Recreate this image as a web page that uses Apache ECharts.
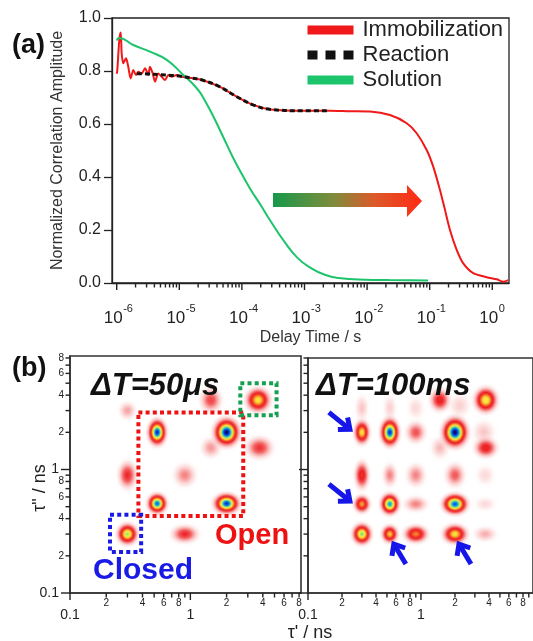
<!DOCTYPE html>
<html><head><meta charset="utf-8">
<script src="https://cdn.jsdelivr.net/npm/echarts@6/dist/echarts.min.js"></script>
<style>html,body{margin:0;padding:0;background:#fff}#c{width:533px;height:641px}</style>
</head><body><div id="c"></div>
<script>
const FONT = '"Liberation Sans", Arial, sans-serif';

// ---------- Panel (a): correlation decays ----------
const immobT = [1.0e-6,1.02e-6,1.10e-6,1.16e-6,1.20e-6,1.27e-6,1.41e-6,1.53e-6,1.67e-6,1.84e-6,2.03e-6,2.21e-6,2.51e-6,2.83e-6,3.20e-6,3.40e-6,3.76e-6,4.09e-6,4.62e-6,5.24e-6,5.92e-6,6.67e-6,7.57e-6,9.09e-6,1.09e-5,1.5e-5,2.38e-5,4.46e-5,8.3e-5,1.55e-4,2.88e-4,1e-3,2.55e-3,5.33e-3,0.0111,0.0232,0.043,0.062,0.0895,0.114,0.146,0.176,0.211,0.27,0.344,0.497,0.814,1.18,1.50,1.80];
const immobA = [0.79,0.80,0.917,0.945,0.867,0.829,0.848,0.816,0.772,0.804,0.785,0.797,0.791,0.810,0.785,0.816,0.791,0.760,0.791,0.778,0.766,0.785,0.778,0.785,0.778,0.774,0.765,0.740,0.703,0.671,0.655,0.650,0.650,0.648,0.647,0.634,0.603,0.565,0.502,0.439,0.351,0.275,0.200,0.125,0.074,0.037,0.022,0.014,0.005,0.011];
const reactT = [2.1e-6,3.0e-6,5.0e-6,1.0e-5,1.5e-5,2.38e-5,4.46e-5,8.3e-5,1.55e-4,2.88e-4,1.0e-3,2.5e-3];
const reactA = [0.790,0.789,0.786,0.781,0.774,0.765,0.740,0.703,0.671,0.655,0.650,0.650];
const solT = [1.0e-6,1.09e-6,1.84e-6,3.4e-6,6.3e-6,1.16e-5,1.9e-5,2.4e-5,3.47e-5,5.05e-5,7.33e-5,1.06e-4,1.36e-4,1.98e-4,2.9e-4,4.74e-4,7.8e-4,1.28e-3,2.11e-3,3.5e-3,9.4e-3,0.0224,0.094];
const solA = [0.915,0.925,0.898,0.873,0.842,0.785,0.735,0.700,0.630,0.550,0.470,0.400,0.355,0.295,0.232,0.157,0.094,0.056,0.031,0.019,0.0125,0.011,0.009];
const aDecadeTicks = [1e-6,1e-5,1e-4,1e-3,1e-2,1e-1,1];
const aDecadeExp = ['-6','-5','-4','-3','-2','-1','0'];

// ---------- Panel (b): 2D lifetime correlation peaks (tau', tau'' in ns) ----------
const p50X   = [2.0, 0.53,0.53,2.0, 0.30,3.65,0.30,0.90,0.90,1.48,0.30,1.48,3.75];
const p50Y   = [2.0, 2.0, 0.53,0.53,0.30,3.65,0.90,0.90,0.30,3.65,3.0, 1.5, 1.5];
const p50Amp = [1.0, 0.93,0.86,0.92,0.66,0.56,0.24,0.13,0.24,0.20,0.10,0.11,0.22];
const p50Wx  = [.047,.034,.036,.047,.039,.047,.039,.050,.056,.045,.039,.045,.056];
const p50Wy  = [.050,.047,.036,.036,.039,.045,.056,.050,.036,.050,.039,.045,.045];

const p100X   = [2.0, 0.53,0.30,0.90,3.75,1.47,0.30,0.53,0.90,2.2, 3.6, 1.47,3.75,0.30,0.53,0.90,2.0, 3.7, 0.30, 0.53, 0.90, 2.0,  3.7,  0.30,0.53,0.90,2.0, 3.7];
const p100Y   = [2.0, 2.0, 2.0, 2.0, 3.65,3.65,3.15,3.15,3.15,3.3, 2.0, 1.5, 1.5, 0.90,0.90,0.90,0.90,0.90,0.525,0.525,0.525,0.525,0.525,0.30,0.30,0.30,0.30,0.30];
const p100Amp = [1.0, 0.92,0.55,0.18,0.60,0.28,0.07,0.06,0.05,0.06,0.07,0.08,0.28,0.30,0.13,0.13,0.17,0.05,0.45, 0.80, 0.13, 0.88, 0.05, 0.68,0.50,0.42,0.55,0.09];
const p100Wx  = [.050,.037,.032,.045,.047,.043,.034,.034,.045,.056,.056,.045,.050,.032,.034,.045,.045,.050,.034, .037, .056, .050, .056, .039,.034,.050,.050,.056];
const p100Wy  = [.053,.050,.045,.045,.047,.045,.060,.060,.056,.056,.056,.050,.039,.056,.050,.050,.050,.050,.034, .039, .034, .037, .034, .039,.034,.034,.036,.034];

// annotation boxes on the 50 us map (ns)
const boxX1 = [0.37, 2.6, 0.215];
const boxX2 = [2.75, 5.2, 0.39];
const boxY1 = [0.42, 2.75, 0.215];
const boxY2 = [2.9, 5.0, 0.43];
const boxColors = ['#ee1111', '#14a050', '#1a1ae6'];
// arrows on the 100 ms map point at these peaks
const arrowPeakX = [0.30, 0.30, 0.53, 2.0];
const arrowPeakY = [2.0, 0.525, 0.30, 0.30];
const arrowSide = ['upperLeft', 'upperLeft', 'lowerRight', 'lowerRight'];

const bMajorTicks = [0.1, 1];
const bMajorLabels = ['0.1', '1'];
const bMinorTicks = [0.2,0.3,0.4,0.5,0.6,0.7,0.8,0.9,2,3,4,5,6,7,8,9];
const bMinorLabels = ['2','','4','','6','','8','','2','','4','','6','','8',''];

// ---------- helpers ----------
const zip = (a, b) => a.map((v, i) => [v, b[i]]);

const CMAP = [
  [0.00,255,255,255,0],
  [0.03,248,180,180,0.28],
  [0.08,244,120,120,0.52],
  [0.15,240,65,65,0.80],
  [0.25,236,28,36,1],
  [0.35,240,70,36,1],
  [0.44,248,150,45,1],
  [0.52,252,215,55,1],
  [0.60,235,240,80,1],
  [0.67,140,225,110,1],
  [0.74,50,205,200,1],
  [0.82,20,140,235,1],
  [0.90,15,60,210,1],
  [1.00,0,10,120,1]
];
function cmap(v) {
  v = Math.max(0, Math.min(1, v));
  for (let i = 1; i < CMAP.length; i++) {
    if (v <= CMAP[i][0]) {
      const a = CMAP[i-1], b = CMAP[i];
      const t = (v - a[0]) / (b[0] - a[0]);
      const c = [1,2,3].map(k => Math.round(a[k] + (b[k]-a[k]) * t));
      const al = a[4] + (b[4]-a[4]) * t;
      return 'rgba(' + c[0] + ',' + c[1] + ',' + c[2] + ',' + al.toFixed(3) + ')';
    }
  }
  return 'rgb(0,10,120)';
}

function blobSeries(grid, X, Y, A, WX, WY) {
  const data = X.map((x, i) => [x, Y[i], A[i], WX[i], WY[i]]).sort((p, q) => p[2] - q[2]);
  return {
    type: 'custom', xAxisIndex: grid, yAxisIndex: grid, clip: true, silent: true, z: 2,
    encode: { x: 0, y: 1 }, data,
    renderItem(params, api) {
      const x = api.value(0), y = api.value(1), a = api.value(2), wx = api.value(3), wy = api.value(4);
      const c = api.coord([x, y]);
      const cx = api.coord([x * Math.pow(10, wx), y]);
      const cy = api.coord([x, y * Math.pow(10, wy)]);
      const sx = Math.abs(cx[0] - c[0]), sy = Math.abs(c[1] - cy[1]);
      const stops = [];
      const N = 16;
      for (let k = 0; k <= N; k++) {
        const t = k / N;
        stops.push({ offset: t, color: cmap(a * Math.exp(-4.5 * t * t)) });
      }
      return {
        type: 'circle', x: c[0], y: c[1], scaleX: 1, scaleY: sy / sx,
        shape: { cx: 0, cy: 0, r: 3 * sx },
        style: { fill: { type: 'radial', x: 0.5, y: 0.5, r: 0.5, colorStops: stops } }
      };
    }
  };
}

function ticksSeries(grid, dim, base, vals, lvls, labs, draw) {
  return {
    type: 'custom', xAxisIndex: grid, yAxisIndex: grid, silent: true, clip: false, z: 10,
    encode: { x: 0, y: 1 },
    data: vals.map(v => dim === 'x' ? [v, base] : [base, v]),
    renderItem(params, api) {
      const i = params.dataIndex;
      const p = api.coord([api.value(0), api.value(1)]);
      return draw(p, lvls[i], labs[i]);
    }
  };
}
const TC = '#222';
// tick mark as a thin filled rectangle
function vTick(x, y, len) {
  return { type: 'rect', shape: { x: x - 0.7, y: y, width: 1.4, height: len }, style: { fill: TC } };
}
function hTick(x, y, len) {
  return { type: 'rect', shape: { x: x - len, y: y - 0.7, width: len, height: 1.4 }, style: { fill: TC } };
}
function textEl(x, y, text, size, align) {
  return { type: 'text', x, y, style: { text, fill: TC, font: size + 'px ' + FONT, align, verticalAlign: 'middle', textAlign: align, textVerticalAlign: 'middle' } };
}

// top x axis ticks
const aMinor = [];
for (let d = 0; d < aDecadeTicks.length - 1; d++) for (let k = 2; k <= 9; k++) aMinor.push(k * aDecadeTicks[d]);
const aTickVals = aDecadeTicks.concat(aMinor);
const aTickLvls = aDecadeTicks.map(() => 1).concat(aMinor.map(() => 0));
const aTickLabs = aDecadeExp.concat(aMinor.map(() => ''));
function drawTopX(p, lvl, lab) {
  const ch = [vTick(p[0], p[1], lvl ? 7 : 4.5)];
  if (lvl) {
    ch.push(textEl(p[0] + 6, p[1] + 35, '10', 17, 'right'));
    ch.push(textEl(p[0] + 6.5, p[1] + 26, lab, 11, 'left'));
  }
  return { type: 'group', children: ch };
}

function bTicks(max) {
  const v = [], l = [], t = [];
  bMajorTicks.forEach((x, i) => { if (x <= max + 1e-9) { v.push(x); l.push(1); t.push(bMajorLabels[i]); } });
  bMinorTicks.forEach((x, i) => { if (x <= max + 1e-9) { v.push(x); l.push(0); t.push(bMinorLabels[i]); } });
  return [v, l, t];
}
function drawBX(p, lvl, lab) {
  const ch = [vTick(p[0], p[1], lvl ? 7 : 4.5)];
  if (lab) ch.push(lvl ? textEl(p[0], p[1] + 22, lab, 14, 'center') : textEl(p[0], p[1] + 10, lab, 10, 'center'));
  return { type: 'group', children: ch };
}
function drawBY(withLabels) {
  return (p, lvl, lab) => {
    const ch = [hTick(p[0], p[1], lvl ? 9 : 4.5)];
    if (withLabels && lab) ch.push(lvl ? textEl(p[0] - 11, p[1], lab, 14, 'right') : textEl(p[0] - 6, p[1], lab, 10, 'right'));
    return { type: 'group', children: ch };
  };
}

const X1MAX = 8.3, Y1MAX = 8.3, X2MAX = 9.81, Y2MAX = 8.0;
const bx1 = bTicks(X1MAX), by1 = bTicks(Y1MAX), bx2 = bTicks(X2MAX), by2 = bTicks(Y2MAX);

const RED = '#f01818', GREEN = '#1cc46c', BLACK = '#111';

const boxSeries = {
  type: 'custom', xAxisIndex: 1, yAxisIndex: 1, silent: true, clip: false, z: 4,
  encode: { x: [0, 2], y: [1, 3] },
  data: boxX1.map((x, i) => [x, boxY1[i], boxX2[i], boxY2[i]]),
  renderItem(params, api) {
    const i = params.dataIndex;
    const tl = api.coord([api.value(0), api.value(3)]);
    const br = api.coord([api.value(2), api.value(1)]);
    return { type: 'rect', shape: { x: tl[0], y: tl[1], width: br[0] - tl[0], height: br[1] - tl[1] },
      style: { fill: 'none', stroke: boxColors[i], lineWidth: 4, lineDash: [4, 3.2] } };
  }
};

const arrowSeries = {
  type: 'custom', xAxisIndex: 2, yAxisIndex: 2, silent: true, clip: false, z: 5,
  encode: { x: 0, y: 1 },
  data: arrowPeakX.map((x, i) => [x, arrowPeakY[i]]),
  renderItem(params, api) {
    const p = api.coord([api.value(0), api.value(1)]);
    let head, tail;
    if (arrowSide[params.dataIndex] === 'upperLeft') {
      head = [p[0] - 12, p[1] - 3]; tail = [head[0] - 21, head[1] - 17];
    } else {
      head = [p[0] + 4, p[1] + 10]; tail = [head[0] + 12, head[1] + 20];
    }
    const dx = head[0] - tail[0], dy = head[1] - tail[1], L = Math.hypot(dx, dy);
    const ux = dx / L, uy = dy / L, a = 40 * Math.PI / 180, hl = 12;
    const rot = s => [head[0] - hl * (ux * Math.cos(s * a) - uy * Math.sin(s * a)), head[1] - hl * (ux * Math.sin(s * a) + uy * Math.cos(s * a))];
    const st = { stroke: '#1616e8', lineWidth: 5, fill: 'none', lineJoin: 'miter', lineCap: 'butt' };
    return { type: 'group', children: [
      { type: 'polyline', shape: { points: [tail, [head[0] - ux * 2, head[1] - uy * 2]] }, style: st },
      { type: 'polyline', shape: { points: [rot(1), head, rot(-1)] }, style: st }
    ] };
  }
};

const logAxisHidden = (grid, max) => ({
  gridIndex: grid, type: 'log', logBase: 10, min: 0.1, max,
  axisLine: { show: true, lineStyle: { color: '#333', width: 1.6 } },
  axisTick: { show: false }, axisLabel: { show: false }, splitLine: { show: false }
});

const chart = echarts.init(document.getElementById('c'), null, { renderer: 'canvas' });
chart.setOption({
  animation: false,
  backgroundColor: '#fff',
  textStyle: { fontFamily: FONT },
  grid: [
    { left: 112, top: 18, width: 397, height: 265, show: true, borderColor: '#222', borderWidth: 1.3, backgroundColor: 'transparent' },
    { left: 70, top: 356, width: 231, height: 237, show: true, borderColor: '#333', borderWidth: 1.6, backgroundColor: 'transparent' },
    { left: 308, top: 358, width: 240, height: 235, show: true, borderColor: '#333', borderWidth: 1.6, backgroundColor: 'transparent' }
  ],
  xAxis: [
    { gridIndex: 0, type: 'log', logBase: 10, min: 8.41e-7, max: 1.85,
      axisLine: { show: true, lineStyle: { color: '#222', width: 1.3 } },
      axisTick: { show: false }, axisLabel: { show: false }, splitLine: { show: false },
      name: 'Delay Time / s', nameLocation: 'middle', nameGap: 47,
      nameTextStyle: { fontSize: 16, color: '#333', fontFamily: FONT } },
    logAxisHidden(1, X1MAX),
    logAxisHidden(2, X2MAX)
  ],
  yAxis: [
    { gridIndex: 0, type: 'value', min: 0, max: 1, interval: 0.2,
      axisLine: { show: true, lineStyle: { color: '#222', width: 1.3 } },
      axisTick: { show: true, length: 8, lineStyle: { color: '#222', width: 1.3 } },
      axisLabel: { fontSize: 16, color: '#222', margin: 11, fontFamily: FONT, formatter: v => v.toFixed(1) },
      splitLine: { show: false },
      name: 'Normalized Correlation Amplitude', nameLocation: 'middle', nameGap: 46,
      nameTextStyle: { fontSize: 16, color: '#333', fontFamily: FONT } },
    logAxisHidden(1, Y1MAX),
    logAxisHidden(2, Y2MAX)
  ],
  legend: {
    orient: 'vertical', left: 303, top: 19, padding: 0, itemWidth: 46, itemHeight: 10, itemGap: 3,
    selectedMode: false,
    lineStyle: { width: 9 },
    textStyle: { fontSize: 22, color: '#222', fontFamily: FONT, lineHeight: 22, padding: [0, 0, 0, 4] },
    data: [
      { name: 'Immobilization' },
      { name: 'Reaction', lineStyle: { width: 9, type: [10, 8] } },
      { name: 'Solution' }
    ]
  },
  graphic: [
    { type: 'polygon', z: 50,
      shape: { points: [[273,193],[407,193],[407,185],[422,201],[407,217],[407,207],[273,207]] },
      style: { fill: { type: 'linear', x: 0, y: 0, x2: 1, y2: 0, colorStops: [
        { offset: 0, color: '#17994a' }, { offset: 0.4, color: '#7d8c3c' },
        { offset: 0.68, color: '#dc5a2a' }, { offset: 1, color: '#ff2a14' } ] } } },
    { type: 'text', z: 100, x: 12, y: 46, style: { text: '(a)', font: 'bold 27px ' + FONT, fill: '#111', verticalAlign: 'middle', textVerticalAlign: 'middle' } },
    { type: 'text', z: 100, x: 12, y: 369, style: { text: '(b)', font: 'bold 27px ' + FONT, fill: '#111', verticalAlign: 'middle', textVerticalAlign: 'middle' } },
    { type: 'text', z: 100, x: 91, y: 386, style: { text: 'ΔT=50μs', font: 'italic bold 31px ' + FONT, fill: '#111', verticalAlign: 'middle', textVerticalAlign: 'middle' } },
    { type: 'text', z: 100, x: 316, y: 386, style: { text: 'ΔT=100ms', font: 'italic bold 31px ' + FONT, fill: '#111', verticalAlign: 'middle', textVerticalAlign: 'middle' } },
    { type: 'text', z: 100, x: 215, y: 536, style: { text: 'Open', font: 'bold 29px ' + FONT, fill: '#ee1111', verticalAlign: 'middle', textVerticalAlign: 'middle' } },
    { type: 'text', z: 100, x: 93, y: 571, style: { text: 'Closed', font: 'bold 30px ' + FONT, fill: '#1a1ae6', verticalAlign: 'middle', textVerticalAlign: 'middle' } },
    { type: 'text', z: 100, x: 310, y: 633, style: { text: "τ' / ns", font: '18px ' + FONT, fill: '#222', align: 'center', textAlign: 'center', verticalAlign: 'middle', textVerticalAlign: 'middle' } },
    { type: 'text', z: 100, x: 40, y: 488, rotation: Math.PI / 2, style: { text: 'τ" / ns', font: '18px ' + FONT, fill: '#222', align: 'center', textAlign: 'center', verticalAlign: 'middle', textVerticalAlign: 'middle' } }
  ],
  series: [
    { name: 'Immobilization', type: 'line', xAxisIndex: 0, yAxisIndex: 0, data: zip(immobT, immobA),
      symbol: 'none', smooth: 0.25, lineStyle: { color: RED, width: 2 }, itemStyle: { color: RED }, z: 3 },
    { name: 'Solution', type: 'line', xAxisIndex: 0, yAxisIndex: 0, data: zip(solT, solA),
      symbol: 'none', smooth: 0.5, lineStyle: { color: GREEN, width: 2 }, itemStyle: { color: GREEN }, z: 3 },
    { name: 'Reaction', type: 'line', xAxisIndex: 0, yAxisIndex: 0, data: zip(reactT, reactA),
      symbol: 'none', smooth: 0.4, lineStyle: { color: BLACK, width: 3, type: [5, 3] }, itemStyle: { color: BLACK }, z: 4 },
    ticksSeries(0, 'x', 0, aTickVals, aTickLvls, aTickLabs, drawTopX),
    blobSeries(1, p50X, p50Y, p50Amp, p50Wx, p50Wy),
    blobSeries(2, p100X, p100Y, p100Amp, p100Wx, p100Wy),
    boxSeries,
    arrowSeries,
    ticksSeries(1, 'x', 0.1, bx1[0], bx1[1], bx1[2], drawBX),
    ticksSeries(1, 'y', 0.1, by1[0], by1[1], by1[2], drawBY(true)),
    ticksSeries(2, 'x', 0.1, bx2[0], bx2[1], bx2[2], drawBX),
    ticksSeries(2, 'y', 0.1, by2[0], by2[1], by2[2], drawBY(false))
  ]
});
</script></body></html>
